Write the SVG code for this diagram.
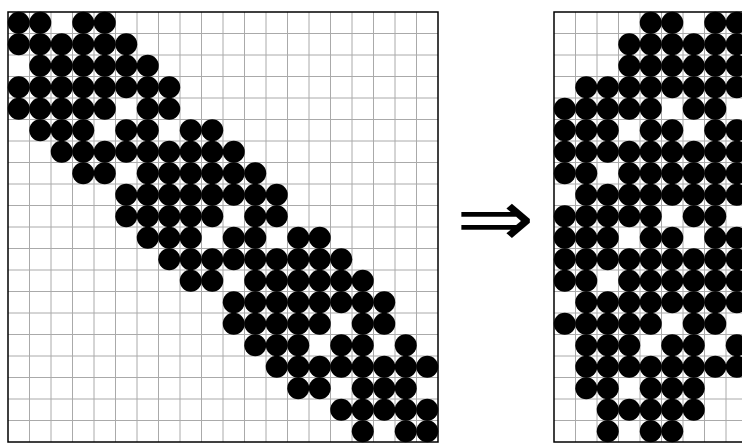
<svg xmlns="http://www.w3.org/2000/svg" width="742" height="443" viewBox="0 0 742 443">
<style>
.grid{fill:none;stroke:#aaa;stroke-width:1}
.box{fill:none;stroke:#000;stroke-width:1.5}
.dot{fill:#000}
.arrow{font-family:"DejaVu Sans",sans-serif;font-size:80px;fill:#000}
</style>
<rect width="742" height="443" fill="#fff"/>
<g id="left-matrix">
<path class="grid" d="M29.5 12V442M51 12V442M72.5 12V442M94 12V442M115.5 12V442M137 12V442M158.5 12V442M180 12V442M201.5 12V442M223 12V442M244.5 12V442M266 12V442M287.5 12V442M309 12V442M330.5 12V442M352 12V442M373.5 12V442M395 12V442M416.5 12V442M8 33.5H438M8 55H438M8 76.5H438M8 98H438M8 119.5H438M8 141H438M8 162.5H438M8 184H438M8 205.5H438M8 227H438M8 248.5H438M8 270H438M8 291.5H438M8 313H438M8 334.5H438M8 356H438M8 377.5H438M8 399H438M8 420.5H438"/>
<g class="dot">
<circle cx="18.75" cy="22.75" r="11"/><circle cx="40.25" cy="22.75" r="11"/><circle cx="83.25" cy="22.75" r="11"/><circle cx="104.75" cy="22.75" r="11"/>
<circle cx="18.75" cy="44.25" r="11"/><circle cx="40.25" cy="44.25" r="11"/><circle cx="61.75" cy="44.25" r="11"/><circle cx="83.25" cy="44.25" r="11"/><circle cx="104.75" cy="44.25" r="11"/><circle cx="126.25" cy="44.25" r="11"/>
<circle cx="40.25" cy="65.75" r="11"/><circle cx="61.75" cy="65.75" r="11"/><circle cx="83.25" cy="65.75" r="11"/><circle cx="104.75" cy="65.75" r="11"/><circle cx="126.25" cy="65.75" r="11"/><circle cx="147.75" cy="65.75" r="11"/>
<circle cx="18.75" cy="87.25" r="11"/><circle cx="40.25" cy="87.25" r="11"/><circle cx="61.75" cy="87.25" r="11"/><circle cx="83.25" cy="87.25" r="11"/><circle cx="104.75" cy="87.25" r="11"/><circle cx="126.25" cy="87.25" r="11"/><circle cx="147.75" cy="87.25" r="11"/><circle cx="169.25" cy="87.25" r="11"/>
<circle cx="18.75" cy="108.75" r="11"/><circle cx="40.25" cy="108.75" r="11"/><circle cx="61.75" cy="108.75" r="11"/><circle cx="83.25" cy="108.75" r="11"/><circle cx="104.75" cy="108.75" r="11"/><circle cx="147.75" cy="108.75" r="11"/><circle cx="169.25" cy="108.75" r="11"/>
<circle cx="40.25" cy="130.25" r="11"/><circle cx="61.75" cy="130.25" r="11"/><circle cx="83.25" cy="130.25" r="11"/><circle cx="126.25" cy="130.25" r="11"/><circle cx="147.75" cy="130.25" r="11"/><circle cx="190.75" cy="130.25" r="11"/><circle cx="212.25" cy="130.25" r="11"/>
<circle cx="61.75" cy="151.75" r="11"/><circle cx="83.25" cy="151.75" r="11"/><circle cx="104.75" cy="151.75" r="11"/><circle cx="126.25" cy="151.75" r="11"/><circle cx="147.75" cy="151.75" r="11"/><circle cx="169.25" cy="151.75" r="11"/><circle cx="190.75" cy="151.75" r="11"/><circle cx="212.25" cy="151.75" r="11"/><circle cx="233.75" cy="151.75" r="11"/>
<circle cx="83.25" cy="173.25" r="11"/><circle cx="104.75" cy="173.25" r="11"/><circle cx="147.75" cy="173.25" r="11"/><circle cx="169.25" cy="173.25" r="11"/><circle cx="190.75" cy="173.25" r="11"/><circle cx="212.25" cy="173.25" r="11"/><circle cx="233.75" cy="173.25" r="11"/><circle cx="255.25" cy="173.25" r="11"/>
<circle cx="126.25" cy="194.75" r="11"/><circle cx="147.75" cy="194.75" r="11"/><circle cx="169.25" cy="194.75" r="11"/><circle cx="190.75" cy="194.75" r="11"/><circle cx="212.25" cy="194.75" r="11"/><circle cx="233.75" cy="194.75" r="11"/><circle cx="255.25" cy="194.75" r="11"/><circle cx="276.75" cy="194.75" r="11"/>
<circle cx="126.25" cy="216.25" r="11"/><circle cx="147.75" cy="216.25" r="11"/><circle cx="169.25" cy="216.25" r="11"/><circle cx="190.75" cy="216.25" r="11"/><circle cx="212.25" cy="216.25" r="11"/><circle cx="255.25" cy="216.25" r="11"/><circle cx="276.75" cy="216.25" r="11"/>
<circle cx="147.75" cy="237.75" r="11"/><circle cx="169.25" cy="237.75" r="11"/><circle cx="190.75" cy="237.75" r="11"/><circle cx="233.75" cy="237.75" r="11"/><circle cx="255.25" cy="237.75" r="11"/><circle cx="298.25" cy="237.75" r="11"/><circle cx="319.75" cy="237.75" r="11"/>
<circle cx="169.25" cy="259.25" r="11"/><circle cx="190.75" cy="259.25" r="11"/><circle cx="212.25" cy="259.25" r="11"/><circle cx="233.75" cy="259.25" r="11"/><circle cx="255.25" cy="259.25" r="11"/><circle cx="276.75" cy="259.25" r="11"/><circle cx="298.25" cy="259.25" r="11"/><circle cx="319.75" cy="259.25" r="11"/><circle cx="341.25" cy="259.25" r="11"/>
<circle cx="190.75" cy="280.75" r="11"/><circle cx="212.25" cy="280.75" r="11"/><circle cx="255.25" cy="280.75" r="11"/><circle cx="276.75" cy="280.75" r="11"/><circle cx="298.25" cy="280.75" r="11"/><circle cx="319.75" cy="280.75" r="11"/><circle cx="341.25" cy="280.75" r="11"/><circle cx="362.75" cy="280.75" r="11"/>
<circle cx="233.75" cy="302.25" r="11"/><circle cx="255.25" cy="302.25" r="11"/><circle cx="276.75" cy="302.25" r="11"/><circle cx="298.25" cy="302.25" r="11"/><circle cx="319.75" cy="302.25" r="11"/><circle cx="341.25" cy="302.25" r="11"/><circle cx="362.75" cy="302.25" r="11"/><circle cx="384.25" cy="302.25" r="11"/>
<circle cx="233.75" cy="323.75" r="11"/><circle cx="255.25" cy="323.75" r="11"/><circle cx="276.75" cy="323.75" r="11"/><circle cx="298.25" cy="323.75" r="11"/><circle cx="319.75" cy="323.75" r="11"/><circle cx="362.75" cy="323.75" r="11"/><circle cx="384.25" cy="323.75" r="11"/>
<circle cx="255.25" cy="345.25" r="11"/><circle cx="276.75" cy="345.25" r="11"/><circle cx="298.25" cy="345.25" r="11"/><circle cx="341.25" cy="345.25" r="11"/><circle cx="362.75" cy="345.25" r="11"/><circle cx="405.75" cy="345.25" r="11"/>
<circle cx="276.75" cy="366.75" r="11"/><circle cx="298.25" cy="366.75" r="11"/><circle cx="319.75" cy="366.75" r="11"/><circle cx="341.25" cy="366.75" r="11"/><circle cx="362.75" cy="366.75" r="11"/><circle cx="384.25" cy="366.75" r="11"/><circle cx="405.75" cy="366.75" r="11"/><circle cx="427.25" cy="366.75" r="11"/>
<circle cx="298.25" cy="388.25" r="11"/><circle cx="319.75" cy="388.25" r="11"/><circle cx="362.75" cy="388.25" r="11"/><circle cx="384.25" cy="388.25" r="11"/><circle cx="405.75" cy="388.25" r="11"/>
<circle cx="341.25" cy="409.75" r="11"/><circle cx="362.75" cy="409.75" r="11"/><circle cx="384.25" cy="409.75" r="11"/><circle cx="405.75" cy="409.75" r="11"/><circle cx="427.25" cy="409.75" r="11"/>
<circle cx="362.75" cy="431.25" r="11"/><circle cx="405.75" cy="431.25" r="11"/><circle cx="427.25" cy="431.25" r="11"/>
</g>
<rect class="box" x="8" y="12" width="430" height="430"/>
</g>
<g id="arrow">
<text class="arrow" transform="translate(456 246) scale(1.17 1)" x="0" y="0">⇒</text>
</g>
<g id="right-matrix">
<path class="grid" d="M575.5 12V442M597 12V442M618.5 12V442M640 12V442M661.5 12V442M683 12V442M704.5 12V442M726 12V442M554 33.5H742M554 55H742M554 76.5H742M554 98H742M554 119.5H742M554 141H742M554 162.5H742M554 184H742M554 205.5H742M554 227H742M554 248.5H742M554 270H742M554 291.5H742M554 313H742M554 334.5H742M554 356H742M554 377.5H742M554 399H742M554 420.5H742"/>
<g class="dot">
<circle cx="650.75" cy="22.75" r="11"/><circle cx="672.25" cy="22.75" r="11"/><circle cx="715.25" cy="22.75" r="11"/><circle cx="736.75" cy="22.75" r="11"/>
<circle cx="629.25" cy="44.25" r="11"/><circle cx="650.75" cy="44.25" r="11"/><circle cx="672.25" cy="44.25" r="11"/><circle cx="693.75" cy="44.25" r="11"/><circle cx="715.25" cy="44.25" r="11"/><circle cx="736.75" cy="44.25" r="11"/>
<circle cx="629.25" cy="65.75" r="11"/><circle cx="650.75" cy="65.75" r="11"/><circle cx="672.25" cy="65.75" r="11"/><circle cx="693.75" cy="65.75" r="11"/><circle cx="715.25" cy="65.75" r="11"/><circle cx="736.75" cy="65.75" r="11"/>
<circle cx="586.25" cy="87.25" r="11"/><circle cx="607.75" cy="87.25" r="11"/><circle cx="629.25" cy="87.25" r="11"/><circle cx="650.75" cy="87.25" r="11"/><circle cx="672.25" cy="87.25" r="11"/><circle cx="693.75" cy="87.25" r="11"/><circle cx="715.25" cy="87.25" r="11"/><circle cx="736.75" cy="87.25" r="11"/>
<circle cx="564.75" cy="108.75" r="11"/><circle cx="586.25" cy="108.75" r="11"/><circle cx="607.75" cy="108.75" r="11"/><circle cx="629.25" cy="108.75" r="11"/><circle cx="650.75" cy="108.75" r="11"/><circle cx="693.75" cy="108.75" r="11"/><circle cx="715.25" cy="108.75" r="11"/>
<circle cx="564.75" cy="130.25" r="11"/><circle cx="586.25" cy="130.25" r="11"/><circle cx="607.75" cy="130.25" r="11"/><circle cx="650.75" cy="130.25" r="11"/><circle cx="672.25" cy="130.25" r="11"/><circle cx="715.25" cy="130.25" r="11"/><circle cx="736.75" cy="130.25" r="11"/>
<circle cx="564.75" cy="151.75" r="11"/><circle cx="586.25" cy="151.75" r="11"/><circle cx="607.75" cy="151.75" r="11"/><circle cx="629.25" cy="151.75" r="11"/><circle cx="650.75" cy="151.75" r="11"/><circle cx="672.25" cy="151.75" r="11"/><circle cx="693.75" cy="151.75" r="11"/><circle cx="715.25" cy="151.75" r="11"/><circle cx="736.75" cy="151.75" r="11"/>
<circle cx="564.75" cy="173.25" r="11"/><circle cx="586.25" cy="173.25" r="11"/><circle cx="629.25" cy="173.25" r="11"/><circle cx="650.75" cy="173.25" r="11"/><circle cx="672.25" cy="173.25" r="11"/><circle cx="693.75" cy="173.25" r="11"/><circle cx="715.25" cy="173.25" r="11"/><circle cx="736.75" cy="173.25" r="11"/>
<circle cx="586.25" cy="194.75" r="11"/><circle cx="607.75" cy="194.75" r="11"/><circle cx="629.25" cy="194.75" r="11"/><circle cx="650.75" cy="194.75" r="11"/><circle cx="672.25" cy="194.75" r="11"/><circle cx="693.75" cy="194.75" r="11"/><circle cx="715.25" cy="194.75" r="11"/><circle cx="736.75" cy="194.75" r="11"/>
<circle cx="564.75" cy="216.25" r="11"/><circle cx="586.25" cy="216.25" r="11"/><circle cx="607.75" cy="216.25" r="11"/><circle cx="629.25" cy="216.25" r="11"/><circle cx="650.75" cy="216.25" r="11"/><circle cx="693.75" cy="216.25" r="11"/><circle cx="715.25" cy="216.25" r="11"/>
<circle cx="564.75" cy="237.75" r="11"/><circle cx="586.25" cy="237.75" r="11"/><circle cx="607.75" cy="237.75" r="11"/><circle cx="650.75" cy="237.75" r="11"/><circle cx="672.25" cy="237.75" r="11"/><circle cx="715.25" cy="237.75" r="11"/><circle cx="736.75" cy="237.75" r="11"/>
<circle cx="564.75" cy="259.25" r="11"/><circle cx="586.25" cy="259.25" r="11"/><circle cx="607.75" cy="259.25" r="11"/><circle cx="629.25" cy="259.25" r="11"/><circle cx="650.75" cy="259.25" r="11"/><circle cx="672.25" cy="259.25" r="11"/><circle cx="693.75" cy="259.25" r="11"/><circle cx="715.25" cy="259.25" r="11"/><circle cx="736.75" cy="259.25" r="11"/>
<circle cx="564.75" cy="280.75" r="11"/><circle cx="586.25" cy="280.75" r="11"/><circle cx="629.25" cy="280.75" r="11"/><circle cx="650.75" cy="280.75" r="11"/><circle cx="672.25" cy="280.75" r="11"/><circle cx="693.75" cy="280.75" r="11"/><circle cx="715.25" cy="280.75" r="11"/><circle cx="736.75" cy="280.75" r="11"/>
<circle cx="586.25" cy="302.25" r="11"/><circle cx="607.75" cy="302.25" r="11"/><circle cx="629.25" cy="302.25" r="11"/><circle cx="650.75" cy="302.25" r="11"/><circle cx="672.25" cy="302.25" r="11"/><circle cx="693.75" cy="302.25" r="11"/><circle cx="715.25" cy="302.25" r="11"/><circle cx="736.75" cy="302.25" r="11"/>
<circle cx="564.75" cy="323.75" r="11"/><circle cx="586.25" cy="323.75" r="11"/><circle cx="607.75" cy="323.75" r="11"/><circle cx="629.25" cy="323.75" r="11"/><circle cx="650.75" cy="323.75" r="11"/><circle cx="693.75" cy="323.75" r="11"/><circle cx="715.25" cy="323.75" r="11"/>
<circle cx="586.25" cy="345.25" r="11"/><circle cx="607.75" cy="345.25" r="11"/><circle cx="629.25" cy="345.25" r="11"/><circle cx="672.25" cy="345.25" r="11"/><circle cx="693.75" cy="345.25" r="11"/><circle cx="736.75" cy="345.25" r="11"/>
<circle cx="586.25" cy="366.75" r="11"/><circle cx="607.75" cy="366.75" r="11"/><circle cx="629.25" cy="366.75" r="11"/><circle cx="650.75" cy="366.75" r="11"/><circle cx="672.25" cy="366.75" r="11"/><circle cx="693.75" cy="366.75" r="11"/><circle cx="715.25" cy="366.75" r="11"/><circle cx="736.75" cy="366.75" r="11"/>
<circle cx="586.25" cy="388.25" r="11"/><circle cx="607.75" cy="388.25" r="11"/><circle cx="650.75" cy="388.25" r="11"/><circle cx="672.25" cy="388.25" r="11"/><circle cx="693.75" cy="388.25" r="11"/>
<circle cx="607.75" cy="409.75" r="11"/><circle cx="629.25" cy="409.75" r="11"/><circle cx="650.75" cy="409.75" r="11"/><circle cx="672.25" cy="409.75" r="11"/><circle cx="693.75" cy="409.75" r="11"/>
<circle cx="607.75" cy="431.25" r="11"/><circle cx="650.75" cy="431.25" r="11"/><circle cx="672.25" cy="431.25" r="11"/>
</g>
<rect class="box" x="554" y="12" width="430" height="430"/>
</g>
</svg>
